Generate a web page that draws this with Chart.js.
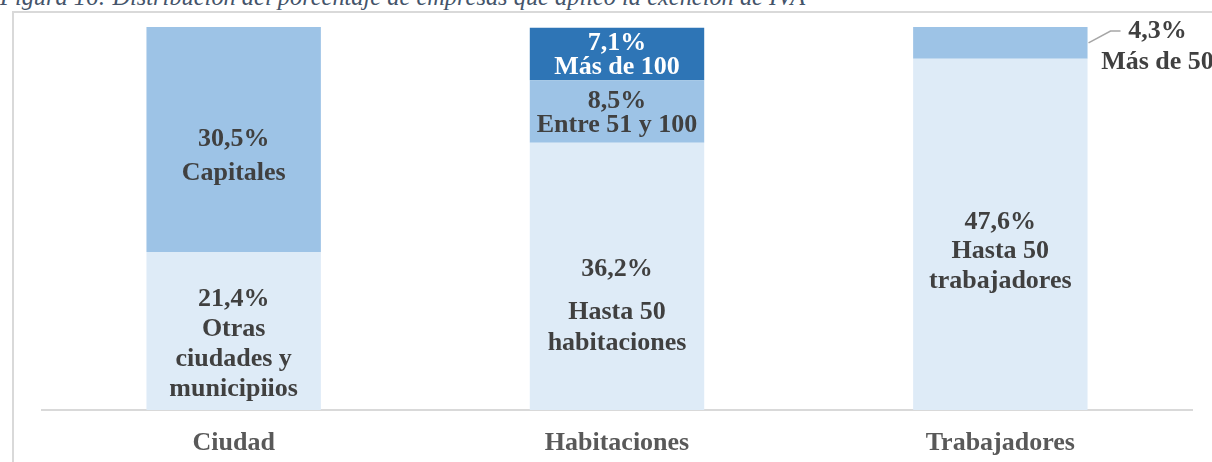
<!DOCTYPE html>
<html>
<head>
<meta charset="utf-8">
<script src="https://cdn.jsdelivr.net/npm/chart.js@4.4.1/dist/chart.umd.min.js"></script>
<style>
    body { margin: 0; background: #fff; width: 1212px; height: 462px; overflow: hidden; position: relative; }
    #frame { position: absolute; left: 12px; top: 11px; width: 1240px; height: 480px; border: 2px solid #d9d9d9; box-sizing: border-box; }
    #title { position: absolute; left: 0; top: -15px; font: italic 24.4px 'Liberation Serif', serif; line-height: 24px; color: #44546A; white-space: nowrap; }
    #grafico { position: absolute; left: 0; top: 0; }
</style>
</head>
<body>
<div id="frame"></div>
<div id="title">Figura 16: Distribución del porcentaje de empresas que aplicó la exención de IVA</div>
<canvas id="grafico" width="1212" height="483"></canvas>
<script>
// Categorías del eje X
const categorias = ['Ciudad', 'Habitaciones', 'Trabajadores'];

// Valores de cada tramo (de abajo hacia arriba)
const tramoBase = [21.4, 36.2, 47.6];
const tramoMedio = [30.5, 8.5, 4.3];
const tramoAlto = [null, 7.1, null];

// Nombres de cada tramo
const nombresBase = ['Otras\nciudades y\nmunicipiios', 'Hasta 50\nhabitaciones', 'Hasta 50\ntrabajadores'];
const nombresMedio = ['Capitales', 'Entre 51 y 100', 'Más de 50'];
const nombresAlto = ['', 'Más de 100', ''];

// Estilo de las etiquetas por tramo (desplazamiento, interlineado, hueco)
const estiloEtiquetas = [
    [{ dy: 13, lh: 30 }, { dy: 30, lh: 31, gap: 12 }, { dy: 17, lh: 29.5 }],
    [{ dy: 17, lh: 34 }, { dy: 1.5, lh: 24 }, { outside: true, lh: 31 }],
    [{}, { dy: 1.5, lh: 24, color: '#ffffff' }, {}]
];

function formato(v) {
    return v.toFixed(1).replace('.', ',') + '%';
}

// Plugin para dibujar las etiquetas dentro de cada tramo
const etiquetasTramos = {
    id: 'etiquetasTramos',
    afterDatasetsDraw(chart) {
        const ctx = chart.ctx;
        ctx.save();
        ctx.font = 'bold 26px "Liberation Serif"';
        ctx.textAlign = 'center';
        ctx.textBaseline = 'middle';
        chart.data.datasets.forEach((ds, di) => {
            const meta = chart.getDatasetMeta(di);
            meta.data.forEach((bar, i) => {
                const v = ds.data[i];
                if (v == null) return;
                const st = estiloEtiquetas[di][i];
                const lineas = [formato(v)].concat(ds.nombres[i].split('\n'));
                ctx.fillStyle = st.color || '#404040';
                if (st.outside) {
                    // Etiqueta fuera de la barra con línea guía
                    const derecha = bar.x + bar.width / 2;
                    const yTop = bar.y + 4;
                    ctx.strokeStyle = '#a6a6a6';
                    ctx.lineWidth = 1.5;
                    ctx.beginPath();
                    ctx.moveTo(derecha + 1, (bar.y + bar.base) / 2);
                    ctx.lineTo(derecha + 23, yTop);
                    ctx.lineTo(derecha + 33, yTop);
                    ctx.stroke();
                    lineas.forEach((t, k) => ctx.fillText(t, derecha + 70, yTop + k * st.lh));
                    return;
                }
                const gap = st.gap || 0;
                const alto = (lineas.length - 1) * st.lh + gap;
                const centro = (bar.y + bar.base) / 2 + (st.dy || 0);
                let y = centro - alto / 2;
                lineas.forEach((t, k) => {
                    ctx.fillText(t, bar.x, y);
                    y += st.lh + (k === 0 ? gap : 0);
                });
            });
        });
        ctx.restore();
    }
};

const config = {
    type: 'bar',
    data: {
        labels: categorias,
        datasets: [
            { label: 'Base', data: tramoBase, nombres: nombresBase, backgroundColor: '#DEEBF7' },
            { label: 'Medio', data: tramoMedio, nombres: nombresMedio, backgroundColor: '#9DC3E6' },
            { label: 'Alto', data: tramoAlto, nombres: nombresAlto, backgroundColor: '#2E75B6' }
        ]
    },
    options: {
        responsive: false,
        animation: false,
        devicePixelRatio: 1,
        layout: { padding: { left: 42, right: 20, top: 27, bottom: 5.8 } },
        datasets: { bar: { categoryPercentage: 1, barPercentage: 0.455, borderWidth: 0 } },
        plugins: { legend: { display: false }, tooltip: { enabled: false } },
        scales: {
            x: {
                stacked: true,
                grid: { display: false, drawTicks: false },
                border: { display: true, color: '#d9d9d9', width: 2 },
                ticks: { color: '#595959', padding: 18, font: { family: 'Liberation Serif', size: 26, weight: 'bold' } }
            },
            y: {
                stacked: true,
                display: false,
                min: 0,
                max: 51.9
            }
        }
    },
    plugins: [etiquetasTramos]
};

new Chart(document.getElementById('grafico'), config);
</script>
</body>
</html>
